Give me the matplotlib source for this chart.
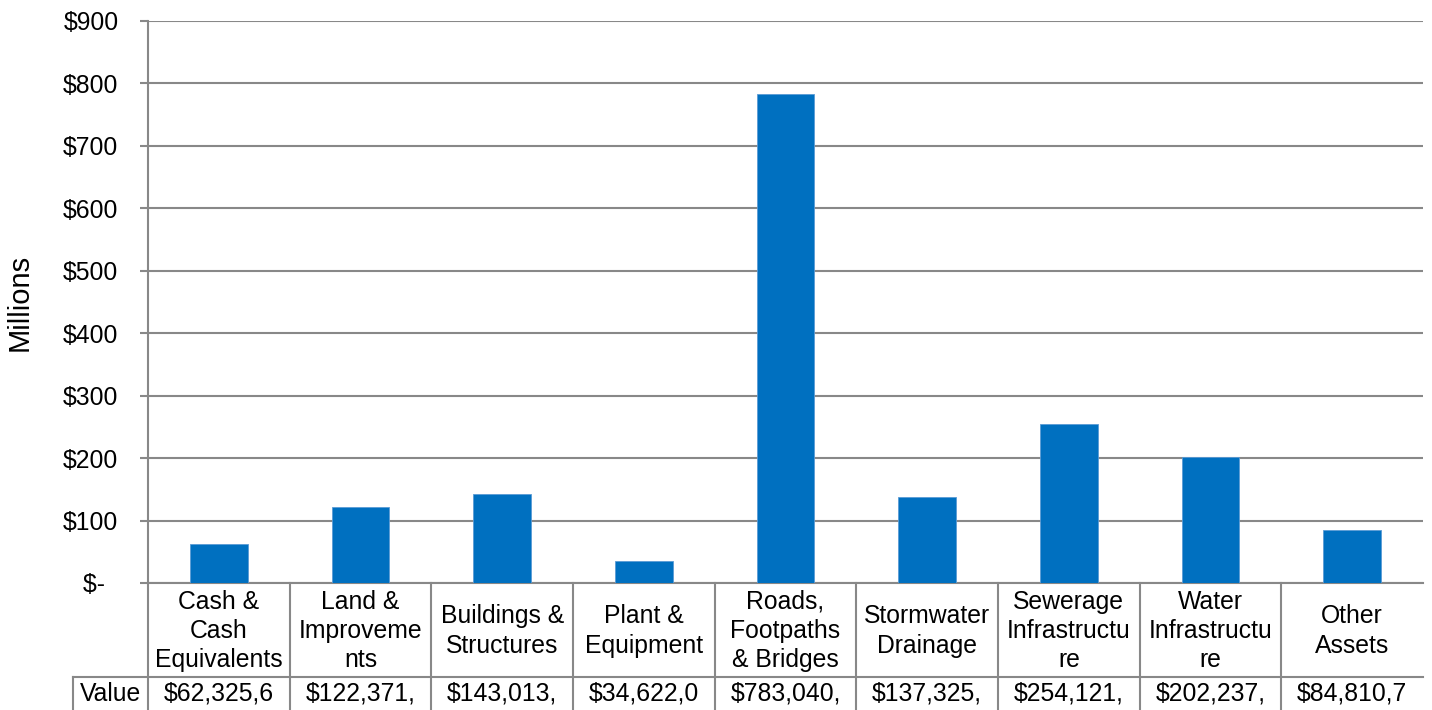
import matplotlib
matplotlib.use("Agg")
import matplotlib.pyplot as plt
from matplotlib.lines import Line2D

plt.rcParams['font.family'] = ['Liberation Sans', 'DejaVu Sans']

categories = ["Cash &\nCash\nEquivalents", "Land &\nImproveme\nnts", "Buildings &\nStructures",
              "Plant &\nEquipment", "Roads,\nFootpaths\n& Bridges", "Stormwater\nDrainage",
              "Sewerage\nInfrastructu\nre", "Water\nInfrastructu\nre", "Other\nAssets"]
values_millions = [62.3256, 122.371, 143.013, 34.6220, 783.040, 137.325, 254.121, 202.237, 84.8107]
value_labels = ["$62,325,6", "$122,371,", "$143,013,", "$34,622,0", "$783,040,",
                "$137,325,", "$254,121,", "$202,237,", "$84,810,7"]
yticks = [0, 100, 200, 300, 400, 500, 600, 700, 800, 900]
ytick_labels = ["$-  ", "$100", "$200", "$300", "$400", "$500", "$600", "$700", "$800", "$900"]

W, H = 1432, 710
fig = plt.figure(figsize=(W / 100, H / 100), dpi=100)
L, R, T, B = 148, 1423, 21, 583
ax = fig.add_axes([L / W, 1 - B / H, (R - L) / W, (B - T) / H])

grid_c = "#888888"
bar_c = "#0070C0"
fs = 17.8

x = list(range(len(categories)))
ax.bar(x, values_millions, width=0.405, color=bar_c, edgecolor="#5b9bd5", linewidth=0.6, zorder=3)
ax.set_xlim(-0.5, len(categories) - 0.5)
ax.set_ylim(0, 900)
ax.set_yticks(yticks)
ax.set_yticklabels(ytick_labels, fontsize=fs)
ax.yaxis.grid(True, color=grid_c, linewidth=1.5)
ax.set_axisbelow(True)
ax.tick_params(axis='y', length=5.8, width=1.5, color=grid_c, pad=15.5)
ax.set_xticks([])
for s in ["top", "right"]:
    ax.spines[s].set_visible(False)
for s in ["left", "bottom"]:
    ax.spines[s].set_color(grid_c)
    ax.spines[s].set_linewidth(1.5)
ax.set_ylabel("Millions", fontsize=21)
ax.yaxis.set_label_coords(-(L - 34) / (R - L), 0.5)

# data table drawn below the axes (pixel-based positions via figure fraction)
def fy(py):
    return 1 - py / H

def fx_data(xd):
    return (L + (xd + 0.5) / len(categories) * (R - L)) / W

row1_top, row2_top, bottom = 583, 677, 712
lines = []
for k in range(len(categories)):
    xf = fx_data(k - 0.5)
    lines.append(Line2D([xf, xf], [fy(row1_top), fy(bottom)]))
lines.append(Line2D([73 / W, 73 / W], [fy(row2_top), fy(bottom)]))
lines.append(Line2D([73 / W, R / W], [fy(row2_top), fy(row2_top)]))
for ln in lines:
    ln.set_color(grid_c)
    ln.set_linewidth(1.5)
    fig.add_artist(ln)

for k, (cat, lab) in enumerate(zip(categories, value_labels)):
    xc = fx_data(k)
    fig.text(xc, fy(631), cat, ha="center", va="center", fontsize=fs, linespacing=1.27)
    fig.text(xc, fy(694), lab, ha="center", va="center", fontsize=fs)
fig.text((73 + 148) / 2 / W, fy(694), "Value", ha="center", va="center", fontsize=fs)

fig.savefig("out.png", dpi=100)
